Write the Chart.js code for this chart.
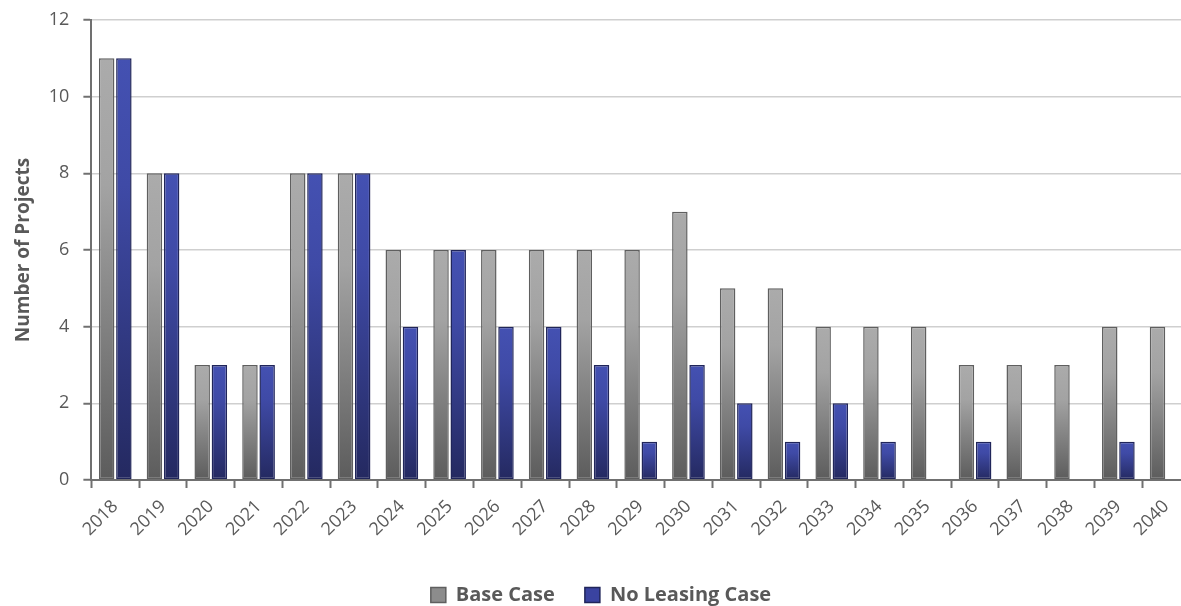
<!DOCTYPE html>
<html>
<head>
<meta charset="utf-8">
<script src="https://cdn.jsdelivr.net/npm/chart.js@4"></script>
<style>
    html, body { margin: 0; padding: 0; background: #fff; overflow: hidden; }
    #wrap { width: 1190px; height: 606px; position: relative; }
</style>
</head>
<body>
<div id="wrap"><canvas id="projectsChart"></canvas></div>
<script>
const years = ['2018', '2019', '2020', '2021', '2022', '2023', '2024', '2025', '2026', '2027', '2028',
    '2029', '2030', '2031', '2032', '2033', '2034', '2035', '2036', '2037', '2038', '2039', '2040'];
const baseCase = [11, 8, 3, 3, 8, 8, 6, 6, 6, 6, 6, 6, 7, 5, 5, 4, 4, 4, 3, 3, 3, 4, 4];
const noLeasingCase = [11, 8, 3, 3, 8, 8, 4, 6, 4, 4, 3, 1, 3, 2, 1, 2, 1, 0, 1, 0, 0, 1, 0];
const yTicks = [0, 2, 4, 6, 8, 10, 12];

const textColor = '#595959';
const fontFamily = "'Open Sans', 'Noto Sans', sans-serif";

function barGradient(topColor, midColor, bottomColor, fallback) {
    return function(context) {
        const chart = context.chart;
        if (!chart.chartArea || context.raw === undefined) {
            return fallback;
        }
        const y = chart.scales.y;
        const top = y.getPixelForValue(context.raw);
        const bottom = y.getPixelForValue(0);
        if (bottom - top < 1) {
            return fallback;
        }
        const g = chart.ctx.createLinearGradient(0, top, 0, bottom);
        g.addColorStop(0, topColor);
        g.addColorStop(0.3, midColor);
        g.addColorStop(1, bottomColor);
        return g;
    };
}

new Chart(document.getElementById('projectsChart'), {
    type: 'bar',
    data: {
        labels: years,
        datasets: [{
            label: 'Base Case',
            data: baseCase,
            backgroundColor: barGradient('#ababab', '#a3a3a3', '#5c5c5c', '#8c8c8c'),
            borderColor: '#5f5f5f',
            borderWidth: 1.5,
            borderSkipped: false,
            categoryPercentage: 0.72,
            barPercentage: 0.9
        },
        {
            label: 'No Leasing Case',
            data: noLeasingCase,
            backgroundColor: barGradient('#4451b2', '#3f4aa6', '#242960', '#353d8c'),
            borderColor: '#20255a',
            borderWidth: 1.5,
            borderSkipped: false,
            categoryPercentage: 0.72,
            barPercentage: 0.9
        }]
    },
    options: {
        responsive: true,
        maintainAspectRatio: false,
        animation: false,
        layout: {
            padding: { left: 12, right: 0, top: 0, bottom: -9 }
        },
        plugins: {
            legend: {
                position: 'bottom',
                labels: {
                    color: textColor,
                    font: { family: fontFamily, size: 20, weight: 'bold' },
                    boxWidth: 15,
                    boxHeight: 15,
                    padding: 30,
                    generateLabels: function(chart) {
                        const fills = ['#8c8c8c', '#3a43a0'];
                        const strokes = ['#5f5f5f', '#20255a'];
                        return chart.data.datasets.map(function(ds, i) {
                            return {
                                text: ds.label,
                                fillStyle: fills[i],
                                strokeStyle: strokes[i],
                                lineWidth: 1.5,
                                fontColor: textColor,
                                datasetIndex: i,
                                hidden: false
                            };
                        });
                    }
                }
            },
            tooltip: { enabled: false }
        },
        scales: {
            x: {
                afterFit: function(axis) {
                    axis.height = 75;
                },
                grid: {
                    offset: true,
                    drawOnChartArea: false,
                    drawTicks: true,
                    tickLength: 8,
                    tickWidth: 2,
                    tickColor: '#707070'
                },
                border: { color: '#707070', width: 2 },
                ticks: {
                    color: textColor,
                    font: { family: fontFamily, size: 18 },
                    maxRotation: 45,
                    minRotation: 45,
                    autoSkip: false,
                    padding: 8
                }
            },
            y: {
                min: 0,
                max: 12,
                afterBuildTicks: function(axis) {
                    axis.ticks = yTicks.map(function(v) { return { value: v }; });
                },
                afterFit: function(axis) {
                    axis.paddingTop = 20;
                },
                grid: {
                    color: '#cfcfcf',
                    lineWidth: 1.5,
                    drawTicks: true,
                    tickLength: 8,
                    tickColor: '#707070',
                    tickWidth: 2
                },
                border: { color: '#707070', width: 2 },
                ticks: {
                    color: textColor,
                    font: { family: fontFamily, size: 18 },
                    padding: 14
                },
                title: {
                    display: true,
                    text: 'Number of Projects',
                    color: textColor,
                    font: { family: fontFamily, size: 19, weight: 'bold' },
                    padding: { top: 0, bottom: 0 }
                }
            }
        }
    }
});
</script>
</body>
</html>
